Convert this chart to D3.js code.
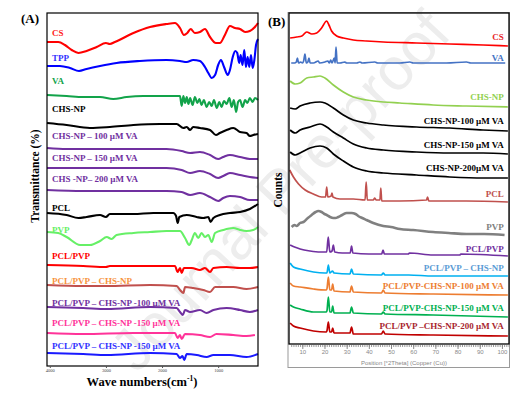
<!DOCTYPE html>
<html><head><meta charset="utf-8">
<script src="https://cdn.jsdelivr.net/npm/d3@7/dist/d3.min.js"></script>
<style>body{margin:0;background:#fff}svg{display:block}</style>
</head><body><svg id="c" width="519" height="396"></svg>
<script>
// ---------- Panel A : FTIR (wavenumber, stacked transmittance a.u.) ----------
const ftirTicks = [4000, 3000, 2000, 1000];
const ftirCS = [[4050,325],[3850,325],[3730,322],[3610,317],[3490,314],[3345,316],[3165,320],[3000,324],[2930,323],[2840,325],[2510,334],[2215,340],[1920,343],[1770,344],[1680,339],[1610,332],[1550,334],[1490,338],[1415,334],[1325,335],[1235,338],[1145,330],[1040,324],[970,324],[880,332],[790,341],[700,339],[610,338],[520,335],[435,336],[345,340],[290,344]];
const ftirTPP = [[4050,301],[3820,301],[3640,299],[3480,296],[3345,298],[3105,301],[2810,304],[2395,306],[1920,307],[1680,306],[1560,305],[1445,307],[1325,306],[1235,300],[1175,294],[1115,289],[1055,292],[1000,302],[950,307],[895,300],[830,292],[790,297],[740,310],[695,316],[660,314],[625,304],[600,312],[565,302],[535,317],[505,300],[475,310],[445,300],[415,312],[385,299],[355,307],[325,322],[290,328]];
const ftirVA = [[4050,272],[3700,271],[3405,270],[3105,270],[2870,268],[2630,270],[2335,271],[2035,271],[1680,271],[1650,261],[1620,271],[1590,264],[1560,270],[1530,263],[1500,269],[1455,262],[1415,270],[1370,264],[1335,268],[1295,262],[1255,267],[1205,260],[1160,265],[1115,261],[1075,267],[1025,259],[980,265],[940,260],[895,266],[850,263],[800,269],[760,260],[720,267],[680,255],[645,265],[610,267],[565,260],[520,267],[480,264],[435,269],[385,265],[345,269],[290,267]];
const ftirCHS = [[4050,244],[3700,242],[3285,239],[2930,240],[2510,242],[2035,243],[1740,243],[1620,239],[1560,240],[1500,237],[1445,240],[1325,239],[1145,237],[1040,232],[970,234],[850,237],[730,239],[610,235],[495,234],[435,231],[375,232],[290,233]];
const ftirCHS100 = [[4050,219],[3700,218],[3105,218],[2510,218],[1920,218],[1650,216],[1500,214],[1325,215],[1145,212],[1000,208],[910,210],[790,212],[610,210],[435,208],[290,208]];
const ftirCHS150 = [[4050,199],[3405,199],[2810,199],[1920,199],[1650,197],[1500,194],[1325,196],[1145,193],[1000,189],[910,191],[790,194],[610,192],[435,190],[290,189]];
const ftirCHS200 = [[4050,177],[3405,176],[2510,176],[1920,176],[1650,175],[1500,172],[1325,174],[1145,170],[1000,166],[910,169],[790,171],[610,170],[435,167],[290,167]];
const ftirPCL = [[4050,154],[3700,152],[3490,149],[3345,150],[3105,152],[3000,150],[2930,153],[2510,153],[2155,154],[1800,154],[1750,151],[1722,144],[1692,150],[1560,152],[1385,150],[1265,149],[1175,150],[1135,145],[1085,149],[970,152],[790,154],[610,155],[435,158],[290,163]];
const ftirPVP = [[4050,135],[3850,134],[3700,130],[3460,122],[3285,122],[3105,126],[2985,130],[2900,128],[2810,132],[2510,134],[2215,135],[1920,136],[1680,136],[1590,129],[1515,122],[1470,127],[1415,134],[1355,129],[1295,134],[1235,130],[1175,132],[1115,125],[1055,134],[910,137],[730,139],[610,137],[495,136],[375,137],[290,140]];
const ftirPCLPVP = [[4050,102],[3405,101],[3000,100],[2930,101],[2215,101],[1770,101],[1722,95],[1680,99],[1650,94],[1610,99],[1470,99],[1325,97],[1235,99],[1145,95],[1085,99],[850,100],[610,99],[435,99],[290,100]];
const ftirPPC = [[4050,82],[3405,81],[3000,81],[2215,82],[1740,81],[1680,77],[1620,74],[1590,80],[1445,79],[1265,77],[1145,75],[1055,80],[730,80],[495,78],[290,80]];
const ftirPPC100 = [[4050,60],[3405,59],[2985,58],[2215,60],[1740,59],[1680,55],[1630,52],[1590,57],[1500,55],[1325,57],[1205,54],[1085,57],[850,59],[610,57],[435,55],[290,57]];
const ftirPPC150a = [[4050,34],[3405,33],[2510,34],[1770,34],[1722,29],[1680,32],[1650,28],[1590,33],[1325,32],[1145,30],[1030,33],[730,32],[495,31],[345,32]];
const ftirPPC150b = [[4050,14],[3405,13],[2985,12],[2215,14],[1740,13],[1680,9],[1635,11],[1605,7],[1560,13],[1380,12],[1205,10],[1085,12],[790,12],[495,10],[290,13]];
const ftirNames = ["CS","TPP","VA","CHS-NP","CHS-NP – 100 µM VA","CHS-NP – 150 µM VA","CHS -NP– 200 µM VA","PCL","PVP","PCL/PVP","PCL/PVP – CHS-NP","PCL/PVP – CHS-NP -100 µM VA","PCL/PVP – CHS-NP -150 µM VA","PCL/PVP – CHS-NP -150 µM VA"];
const ftirLabelY = [331,306,283,255,228,206,185,156,134,108,83,61,41,18];

// ---------- Panel B : XRD (2theta, stacked counts a.u.) ----------
const xrdTicks = [10,20,30,40,50,60,70,80,90,100];
const xrdCS = [[4.5,307],[7.5,308],[9.8,309],[12,313],[14.3,311],[16.5,312],[18.7,317],[21,324],[22,320],[23.2,314],[25.5,309],[28.5,307],[33,305],[39,304],[46.5,303],[61.5,302],[76.5,301],[91.5,300],[102.7,299]];
const xrdVA = [[5,282],[6.5,282],[7.3,283],[7.8,287],[8.3,282],[9.3,283],[10,282],[10.6,284],[11.2,291],[11.8,282],[12.5,283],[13,287],[13.5,282],[15,282],[17.2,284],[17.8,282],[20.2,283],[21.5,284],[22.2,282],[22.8,285],[23.4,282],[24.4,287],[24.8,282],[25.2,298],[25.7,282],[27,282],[29.2,283],[30,282],[34.5,282],[36,283],[37,282],[42.7,283],[44,282],[54,282],[58.5,283],[60,282],[75,282],[84,283],[86,282],[101.5,282]];
const xrdCHS = [[4.5,264],[6.8,261],[9,262],[12,267],[15,268],[18,269],[20.2,267],[24,260],[28.5,253],[33,248],[39,245],[46.5,243],[54,242],[69,240],[84,239],[102.7,238]];
const xrdCHS100 = [[4.5,237],[6.8,236],[9,239],[13.5,242],[18,243],[20.2,242],[24,237],[28.5,230],[33,225],[39,222],[46.5,220],[61.5,218],[76.5,217],[91.5,215],[102.7,214]];
const xrdCHS150 = [[4.5,215],[6.8,212],[9,215],[13.5,218],[18,221],[21,218],[24,213],[28.5,207],[33,201],[39,197],[46.5,195],[61.5,193],[76.5,192],[91.5,192],[102.7,191]];
const xrdCHS200 = [[4.5,193],[6.8,190],[9,192],[13.5,197],[18,199],[21,197],[24,191],[28.5,184],[33,178],[39,174],[46.5,172],[61.5,170],[76.5,168],[91.5,167],[102.7,167]];
const xrdPCL = [[4.3,175],[6,168],[8.3,161],[11.3,155],[15,151],[18.7,148],[20.5,148],[21,158],[21.5,148],[23,149],[23.4,152],[23.8,148],[27,146],[33,146],[38.3,145],[38.8,163],[39.3,145],[42,145],[42.7,147],[43.3,145],[45,145],[45.4,157],[45.8,144],[54,144],[66,145],[66.5,148],[67,144],[84,144],[102.7,143]];
const xrdPVP = [[5.2,118],[6.5,120],[7.5,119],[9,122],[10.5,123],[12.5,127],[14.2,130],[16,133],[17.2,134],[18.7,133],[20,131],[21,130],[22.5,128],[24,127],[25,127],[26.2,128],[28,130],[30,132],[32.2,132],[34,131],[35.2,129],[37,127],[39,125],[42,122],[46.5,119],[50,118],[54,116],[60,115],[69,113],[76,112],[84,111],[92,111],[101.2,110]];
const xrdPCLPVP = [[4.5,100],[6.5,98],[9,96],[13.5,94],[18,93],[21,93],[21.7,108],[22.4,93],[23.4,94],[24,100],[24.6,93],[28,92],[31.6,92],[32.2,99],[32.8,92],[40,91],[45.8,91],[46.4,95],[47,91],[57.8,91],[58.3,92],[69,90],[81,90],[81.5,91],[102.7,89]];
const xrdPPC = [[4.5,82],[6,78],[9,76],[15,73],[20.2,72],[21.1,72],[21.75,80],[22.4,72],[23.6,74],[24.3,72],[31.5,71],[32.2,76],[33,71],[45.7,70],[46.5,72],[47.3,70],[58,70],[69,69],[102.7,69]];
const xrdPPC100 = [[4.5,62],[6,59],[9,58],[15,56],[20.7,55],[21.1,56],[21.75,68],[22.4,55],[23.2,55],[23.7,61],[24.3,54],[31.5,53],[32.2,59],[33,53],[45.7,52],[46.5,55],[47.3,52],[69,51],[102.7,50]];
const xrdPPC150 = [[4.5,40],[6,38],[9,36],[15,33],[20.7,33],[21.1,34],[21.75,48],[22.4,33],[23.2,33],[23.7,39],[24.3,32],[31.5,32],[32.2,38],[33,32],[45.7,31],[46.5,33],[47.3,31],[69,30],[102.7,28]];
const xrdPPC200 = [[4.5,22],[6,19],[9,17],[15,14],[20.7,13],[21.1,14],[21.75,23],[22.4,13],[23.2,13],[23.7,17],[24.3,12],[31.5,12],[32.2,18],[33,11],[45.7,11],[46.5,14],[47.3,11],[69,10],[102.7,9]];
const xrdNames = ["CS","VA","CHS-NP","CHS-NP-100 µM VA","CHS-NP-150 µM VA","CHS-NP-200µM VA","PCL","PVP","PCL/PVP","PCL/PVP – CHS-NP","PCL/PVP-CHS-NP-100 µM VA","PCL/PVP-CHS-NP-150 µM VA","PCL/PVP –CHS-NP-200 µM VA"];
const xrdLabelY = [305,284,245,221,197,174,148,115,93,74,56,34,16];

// ---------- build ----------
const ftirData = [ftirCS,ftirTPP,ftirVA,ftirCHS,ftirCHS100,ftirCHS150,ftirCHS200,ftirPCL,ftirPVP,ftirPCLPVP,ftirPPC,ftirPPC100,ftirPPC150a,ftirPPC150b];
const ftirLine = ["#ff0000","#0000ff","#12a34a","#000000","#7030a0","#7030a0","#7030a0","#000000","#66f066","#ff0000","#c0504d","#7030a0","#ff3399","#1a1aff"];
const ftirLab = ["#ff2020","#3333ff","#12a34a","#000000","#7030a0","#7030a0","#7030a0","#000000","#66f066","#ff0000","#f7943e","#7030a0","#ff3399","#3333ff"];
const xrdData = [xrdCS,xrdVA,xrdCHS,xrdCHS100,xrdCHS150,xrdCHS200,xrdPCL,xrdPVP,xrdPCLPVP,xrdPPC,xrdPPC100,xrdPPC150,xrdPPC200];
const xrdLine = ["#ff0000","#4472c4","#92d050","#000000","#000000","#000000","#c0504d","#808080","#7030a0","#00b0f0","#ed7d31","#00b050","#c00000"];
const xrdLab = ["#e8262b","#4472c4","#92d050","#000000","#000000","#000000","#c0504d","#7f7f7f","#7030a0","#5b9bd5","#ed7d31","#00b050","#a8262e"];

const svg = d3.select("#c");
svg.append("rect").attr("width",519).attr("height",396).attr("fill","#fff");

// watermark (kept fully inside the picture)
svg.append("text").attr("transform","translate(295,205) rotate(-47)")
  .attr("text-anchor","middle").attr("font-family","Liberation Sans").attr("font-size",60)
  .attr("fill","#ededed").text("Journal Pre-proof");

const serif = "Liberation Serif";

// Panel A
const xA = d3.scaleLinear().domain([4050, 290]).range([47, 258]);
const yA = d3.scaleLinear().domain([0, 354]).range([367, 13]);
const lineA = d3.line().x(d=>xA(d[0])).y(d=>yA(d[1])).curve(d3.curveMonotoneX);
const gA = svg.append("g");
ftirData.forEach((s,i)=>{
  gA.append("path").attr("d",lineA(s)).attr("fill","none").attr("stroke",ftirLine[i])
    .attr("stroke-width",2.1).attr("stroke-linejoin","round");
  gA.append("text").attr("x",xA(3960)).attr("y",yA(ftirLabelY[i]))
    .attr("font-family",serif).attr("font-weight","bold").attr("font-size",9)
    .attr("fill",ftirLab[i]).text(ftirNames[i]);
});
gA.append("rect").attr("x",47).attr("y",13).attr("width",211).attr("height",353)
  .attr("fill","none").attr("stroke","#000").attr("stroke-width",1.2);
const axA = gA.append("g").attr("transform","translate(0,366)")
  .call(d3.axisBottom(xA).tickValues(ftirTicks).tickSize(2).tickPadding(1).tickFormat(d3.format("d")));
axA.select(".domain").remove();
axA.selectAll("text").attr("font-size",4.5).attr("font-family",serif).attr("fill","#444");
axA.selectAll("line").attr("stroke","#555");
svg.append("text").attr("x",142).attr("y",386).attr("text-anchor","middle")
  .attr("font-family",serif).attr("font-weight","bold").attr("font-size",12.5)
  .html('Wave numbers(cm<tspan dy="-5" font-size="7.5">-1</tspan><tspan dy="5">)</tspan>');
svg.append("text").attr("transform","translate(39,176) rotate(-90)").attr("text-anchor","middle")
  .attr("font-family",serif).attr("font-weight","bold").attr("font-size",11.5).text("Transmittance (%)");
svg.append("text").attr("x",21).attr("y",23).attr("font-family",serif).attr("font-weight","bold")
  .attr("font-size",13).text("(A)");

// Panel B
const xB = d3.scaleLinear().domain([4, 103.2]).range([289, 509]);
const yB = d3.scaleLinear().domain([0, 332]).range([345, 13]);
const lineB = d3.line().x(d=>xB(d[0])).y(d=>yB(d[1])).curve(d3.curveMonotoneX);
const gB = svg.append("g");
gB.append("rect").attr("x",288).attr("y",12.5).attr("width",221.5).attr("height",355)
  .attr("fill","none").attr("stroke","#9a9a9a").attr("stroke-width",1);
xrdData.forEach((s,i)=>{
  gB.append("path").attr("d",lineB(s)).attr("fill","none").attr("stroke",xrdLine[i])
    .attr("stroke-width", i===7 ? 2.6 : 1.7).attr("stroke-linejoin","round");
  gB.append("text").attr("x",xB(100.8)).attr("y",yB(xrdLabelY[i])).attr("text-anchor","end")
    .attr("font-family",serif).attr("font-weight","bold").attr("font-size",9)
    .attr("fill",xrdLab[i]).text(xrdNames[i]);
});
gB.append("rect").attr("x",289).attr("y",13).attr("width",220).attr("height",331)
  .attr("fill","none").attr("stroke","#000").attr("stroke-width",1.3);
const axBm = gB.append("g").attr("transform","translate(0,345)")
  .call(d3.axisBottom(xB).tickValues(d3.range(5,104,1)).tickSize(2).tickFormat(""));
axBm.select(".domain").remove();
axBm.selectAll("line").attr("stroke","#999");
const axB = gB.append("g").attr("transform","translate(0,345)")
  .call(d3.axisBottom(xB).tickValues(xrdTicks).tickSize(4).tickPadding(1));
axB.select(".domain").remove();
axB.selectAll("line").attr("stroke","#888");
axB.selectAll("text").attr("font-size",6).attr("font-family","Liberation Sans").attr("fill","#888");
svg.append("text").attr("x",404).attr("y",364.5).attr("text-anchor","middle")
  .attr("font-family","Liberation Sans").attr("font-size",6).attr("fill","#888")
  .text("Position [°2Theta] (Copper (Cu))");
svg.append("text").attr("transform","translate(282,190) rotate(-90)").attr("text-anchor","middle")
  .attr("font-family",serif).attr("font-weight","bold").attr("font-size",11.5).text("Counts");
svg.append("text").attr("x",268).attr("y",26).attr("font-family",serif).attr("font-weight","bold")
  .attr("font-size",13).text("(B)");
</script></body></html>
